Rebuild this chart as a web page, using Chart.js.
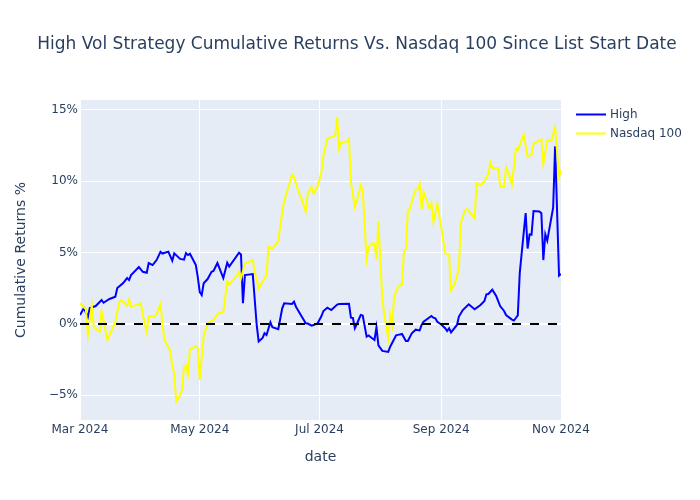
<!DOCTYPE html>
<html>
<head>
<meta charset="utf-8">
<title>High Vol Strategy vs Nasdaq 100</title>
<script src="https://cdn.jsdelivr.net/npm/chart.js@4.4.1/dist/chart.umd.min.js"></script>
<style>
  html, body { margin: 0; padding: 0; background: #fff; }
  #wrap { width: 700px; height: 500px; }
</style>
</head>
<body>
<div id="wrap"><canvas id="returnsChart" width="700" height="500"></canvas></div>
<script>
// cumulative returns in %
const highDates = [
  '2024-03-01','2024-03-03','2024-03-05','2024-03-06','2024-03-09','2024-03-12','2024-03-13','2024-03-16',
  '2024-03-19','2024-03-20','2024-03-23','2024-03-25','2024-03-26','2024-03-27','2024-03-31',
  '2024-04-02','2024-04-04','2024-04-05','2024-04-07','2024-04-09','2024-04-11','2024-04-12','2024-04-15',
  '2024-04-17','2024-04-18','2024-04-21','2024-04-23','2024-04-24','2024-04-25','2024-04-26','2024-04-29','2024-04-30',
  '2024-05-01','2024-05-02','2024-05-03','2024-05-05','2024-05-07','2024-05-08','2024-05-10','2024-05-13',
  '2024-05-15','2024-05-16','2024-05-21','2024-05-22','2024-05-23','2024-05-24','2024-05-28','2024-05-30','2024-05-31',
  '2024-06-02','2024-06-03','2024-06-04','2024-06-06','2024-06-07','2024-06-10','2024-06-12','2024-06-13',
  '2024-06-17','2024-06-18','2024-06-19','2024-06-22','2024-06-24','2024-06-25','2024-06-27','2024-06-29','2024-06-30',
  '2024-07-02','2024-07-03','2024-07-05','2024-07-07','2024-07-10','2024-07-11','2024-07-16','2024-07-17',
  '2024-07-18','2024-07-19','2024-07-20','2024-07-22','2024-07-23','2024-07-25','2024-07-26','2024-07-27',
  '2024-07-29','2024-07-30','2024-07-31',
  '2024-08-02','2024-08-05','2024-08-06','2024-08-09','2024-08-11','2024-08-12','2024-08-14','2024-08-15',
  '2024-08-17','2024-08-19','2024-08-21','2024-08-22','2024-08-23','2024-08-27','2024-08-28','2024-08-29','2024-08-30',
  '2024-09-01','2024-09-03','2024-09-04','2024-09-05','2024-09-06','2024-09-09','2024-09-10','2024-09-12',
  '2024-09-15','2024-09-18','2024-09-21','2024-09-23','2024-09-24','2024-09-25','2024-09-27','2024-09-29',
  '2024-10-01','2024-10-03','2024-10-04','2024-10-07','2024-10-08','2024-10-09','2024-10-10','2024-10-11',
  '2024-10-14','2024-10-15','2024-10-16','2024-10-17','2024-10-18','2024-10-21','2024-10-22','2024-10-23',
  '2024-10-24','2024-10-25','2024-10-28','2024-10-29','2024-10-31','2024-11-01'
];
const highValues = [
  0.63, 1.12, 0.49, 1.12, 1.26, 1.68, 1.49, 1.75,
  1.91, 2.52, 2.87, 3.22, 3.08, 3.43, 3.99,
  3.66, 3.59, 4.27, 4.13, 4.48, 5.06, 4.94, 5.07,
  4.44, 4.95, 4.56, 4.51, 4.97, 4.83, 4.92, 4.13, 3.29,
  2.24, 2.03, 2.85, 3.15, 3.66, 3.71, 4.27, 3.22,
  4.29, 4.03, 5.0, 4.87, 1.45, 3.43, 3.5, -0.07, -1.22,
  -0.98, -0.65, -0.77, 0.12, -0.23, -0.37, 1.1, 1.45,
  1.4, 1.56, 1.21, 0.51, 0.05, 0.03, -0.12, -0.02, 0.03,
  0.56, 0.91, 1.14, 0.98, 1.36, 1.4, 1.41, 0.44,
  0.42, -0.3, 0.0, 0.63, 0.59, -0.89, -0.8, -0.91,
  -1.12, -0.24, -1.5,
  -1.89, -1.96, -1.59, -0.8, -0.73, -0.7, -1.19, -1.19,
  -0.65, -0.4, -0.45, -0.07, 0.16, 0.56, 0.44, 0.4, 0.16,
  -0.03, -0.3, -0.49, -0.3, -0.59, -0.07, 0.52, 0.98,
  1.38, 1.03, 1.33, 1.61, 2.08, 2.1, 2.4, 1.96,
  1.26, 0.91, 0.63, 0.31, 0.24, 0.42, 0.61, 3.6,
  7.78, 5.29, 6.28, 6.26, 7.92, 7.88, 7.76, 4.48,
  6.28, 5.84, 8.15, 12.45, 3.39, 3.5
];

const nasdaqDates = [
  '2024-03-01','2024-03-04','2024-03-05','2024-03-07','2024-03-08','2024-03-11','2024-03-12','2024-03-15',
  '2024-03-19','2024-03-21','2024-03-22','2024-03-25','2024-03-26','2024-03-27',
  '2024-04-01','2024-04-02','2024-04-04','2024-04-05','2024-04-08','2024-04-09','2024-04-11','2024-04-12',
  '2024-04-13','2024-04-16','2024-04-17','2024-04-18','2024-04-19','2024-04-21','2024-04-22','2024-04-23',
  '2024-04-24','2024-04-25','2024-04-26','2024-04-29','2024-04-30',
  '2024-05-01','2024-05-03','2024-05-05','2024-05-07','2024-05-08','2024-05-10','2024-05-13','2024-05-15',
  '2024-05-16','2024-05-20','2024-05-21','2024-05-22','2024-05-24','2024-05-28','2024-05-29','2024-05-31',
  '2024-06-04','2024-06-05','2024-06-07','2024-06-10','2024-06-12','2024-06-13','2024-06-17','2024-06-18',
  '2024-06-20','2024-06-22','2024-06-24','2024-06-25','2024-06-27','2024-06-28','2024-06-30',
  '2024-07-02','2024-07-03','2024-07-05','2024-07-07','2024-07-09','2024-07-10','2024-07-11','2024-07-12',
  '2024-07-15','2024-07-16','2024-07-17','2024-07-19','2024-07-21','2024-07-22','2024-07-23','2024-07-25',
  '2024-07-26','2024-07-28','2024-07-29','2024-07-30','2024-07-31',
  '2024-08-02','2024-08-03','2024-08-05','2024-08-06','2024-08-07','2024-08-08','2024-08-10','2024-08-12',
  '2024-08-13','2024-08-14','2024-08-15','2024-08-16','2024-08-18','2024-08-19','2024-08-20','2024-08-21',
  '2024-08-22','2024-08-23','2024-08-26','2024-08-27','2024-08-28','2024-08-30',
  '2024-09-01','2024-09-03','2024-09-05','2024-09-06','2024-09-08','2024-09-10','2024-09-11','2024-09-13',
  '2024-09-14','2024-09-16','2024-09-18','2024-09-19','2024-09-21','2024-09-23','2024-09-25','2024-09-26',
  '2024-09-27','2024-09-30',
  '2024-10-01','2024-10-03','2024-10-04','2024-10-06','2024-10-07','2024-10-09','2024-10-10','2024-10-13',
  '2024-10-15','2024-10-17','2024-10-18','2024-10-22','2024-10-23','2024-10-25','2024-10-27','2024-10-29',
  '2024-10-31','2024-11-01'
];
const nasdaqValues = [
  1.45, 1.03, -0.77, 1.33, -0.2, -0.54, 0.91, -1.12,
  0.14, 1.56, 1.68, 1.29, 1.73, 1.21,
  1.45, 0.63, -0.56, 0.56, 0.52, 0.7, 1.4, -0.07,
  -1.12, -1.89, -3.0, -3.45, -5.45, -4.97, -4.62, -2.97,
  -2.9, -3.5, -1.78, -1.56, -1.68,
  -3.92, -0.84, 0.03, 0.24, 0.28, 0.7, 0.86, 2.96,
  2.76, 3.43, 3.66, 3.2, 4.24, 4.48, 3.66, 2.5,
  3.43, 5.41, 5.29, 5.83, 7.85, 8.6, 10.47, 10.3,
  9.4, 8.7, 7.9, 9.14, 9.6, 9.14, 9.65,
  10.65, 11.82, 12.99, 13.1, 13.22, 14.5, 12.29, 12.71,
  12.8, 12.99, 9.95, 8.2, 9.14, 9.72, 9.37, 4.55,
  5.41, 5.64, 5.63, 4.55, 7.15,
  1.8, 0.63, -0.98, 0.63, -0.07, 1.92, 2.61, 2.78,
  5.1, 5.29, 7.97, 8.09, 9.02, 9.42, 9.42, 9.83,
  8.04, 9.25, 8.09, 8.46, 7.15, 8.44,
  6.75, 4.97, 4.86, 2.38, 2.85, 3.9, 7.1, 7.97,
  8.09, 7.76, 7.41, 9.86, 9.72, 10.0, 10.54, 11.35,
  10.93, 10.94,
  9.6, 9.65, 10.98, 10.28, 9.78, 12.29, 12.2, 13.27,
  11.7, 11.91, 12.64, 12.94, 11.24, 12.85, 12.83, 13.8,
  10.3, 10.8
];

const tickDates = ['2024-03-01', '2024-05-01', '2024-07-01', '2024-09-01', '2024-11-01'];
const tickLabels = ['Mar 2024', 'May 2024', 'Jul 2024', 'Sep 2024', 'Nov 2024'];
const yTicks = [-5, 0, 5, 10, 15];

const FONT = '"DejaVu Sans", verdana, arial, sans-serif';
const TEXT = '#2a3f5f';

// days since the first date, used as the linear x value
const start = Date.parse(highDates[0]);
const dayOf = d => (Date.parse(d) - start) / 86400000;
const toPoints = (dates, values) => dates.map((d, i) => ({ x: dayOf(d), y: values[i] }));
const lastDay = dayOf(highDates[highDates.length - 1]);

const decorations = {
    id: 'decorations',
    beforeDraw(chart) {
        const { ctx, chartArea: a } = chart;
        ctx.save();
        ctx.fillStyle = '#fff';
        ctx.fillRect(0, 0, chart.width, chart.height);
        ctx.fillStyle = '#E5ECF6';
        ctx.fillRect(a.left, a.top, a.right - a.left, a.bottom - a.top);
        ctx.restore();
    },
    afterDraw(chart) {
        const { ctx, chartArea: a } = chart;
        ctx.save();
        ctx.fillStyle = TEXT;
        ctx.textBaseline = 'middle';

        // title
        ctx.font = '17px ' + FONT;
        ctx.textAlign = 'center';
        ctx.fillText('High Vol Strategy Cumulative Returns Vs. Nasdaq 100 Since List Start Date', 357, 45);

        // axis titles
        ctx.font = '14px ' + FONT;
        ctx.fillText('date', (a.left + a.right) / 2, 457);
        ctx.save();
        ctx.translate(21, (a.top + a.bottom) / 2);
        ctx.rotate(-Math.PI / 2);
        ctx.fillText('Cumulative Returns %', 0, 0);
        ctx.restore();

        // legend
        ctx.font = '12px ' + FONT;
        ctx.textAlign = 'left';
        const items = [['High', '#0000FF', 114.5], ['Nasdaq 100', '#FFFF00', 133.5]];
        items.forEach(([label, color, y]) => {
            ctx.strokeStyle = color;
            ctx.lineWidth = 2;
            ctx.beginPath();
            ctx.moveTo(576, y);
            ctx.lineTo(606, y);
            ctx.stroke();
            ctx.fillText(label, 610, y);
        });
        ctx.restore();
    }
};

const ctx = document.getElementById('returnsChart').getContext('2d');
new Chart(ctx, {
    type: 'line',
    data: {
        datasets: [
            {
                label: 'zero',
                data: [{ x: 0, y: 0 }, { x: lastDay, y: 0 }],
                borderColor: '#000',
                borderWidth: 2,
                borderDash: [9, 9]
            },
            {
                label: 'Nasdaq 100',
                data: toPoints(nasdaqDates, nasdaqValues),
                borderColor: '#FFFF00',
                borderWidth: 2
            },
            {
                label: 'High',
                data: toPoints(highDates, highValues),
                borderColor: '#0000FF',
                borderWidth: 2
            }
        ]
    },
    options: {
        responsive: false,
        animation: false,
        events: [],
        elements: {
            point: { radius: 0 },
            line: { tension: 0, fill: false }
        },
        layout: { padding: { top: 100, right: 139, left: 0, bottom: 0 } },
        plugins: {
            legend: { display: false },
            tooltip: { enabled: false }
        },
        scales: {
            x: {
                type: 'linear',
                min: 0,
                max: lastDay,
                border: { display: false },
                grid: { color: '#fff', lineWidth: 1, drawTicks: false },
                afterBuildTicks: scale => { scale.ticks = tickDates.map(d => ({ value: dayOf(d) })); },
                afterFit: scale => { scale.height = 80; },
                ticks: {
                    padding: 3,
                    maxRotation: 0,
                    autoSkip: false,
                    color: TEXT,
                    font: { family: FONT, size: 12 },
                    callback: value => tickLabels[tickDates.findIndex(d => dayOf(d) === value)]
                }
            },
            y: {
                min: -6.73,
                max: 15.7,
                border: { display: false },
                grid: {
                    color: '#fff',
                    drawTicks: false,
                    lineWidth: c => (c.tick && c.tick.value === 0 ? 2 : 1)
                },
                afterBuildTicks: scale => { scale.ticks = yTicks.map(v => ({ value: v })); },
                afterFit: scale => { scale.width = 80; },
                ticks: {
                    padding: 2,
                    color: TEXT,
                    font: { family: FONT, size: 12 },
                    callback: v => (v < 0 ? '\u2212' + Math.abs(v) : v) + '%'
                }
            }
        }
    },
    plugins: [decorations]
});
</script>
</body>
</html>
